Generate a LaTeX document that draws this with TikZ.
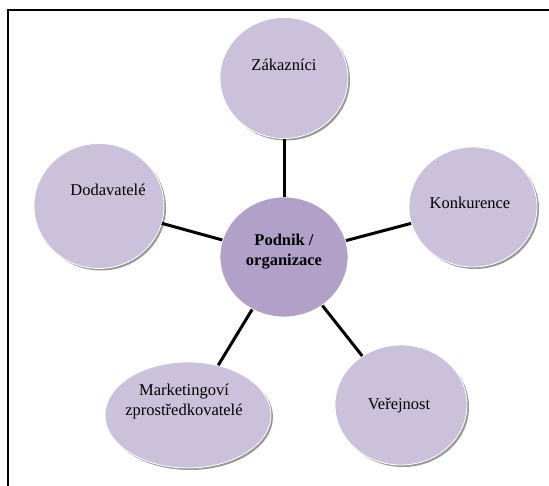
\documentclass[tikz,border=0pt]{standalone}
\usepackage{fontspec}
\setmainfont{Liberation Serif}
\usetikzlibrary{shapes.geometric,shadows}

\definecolor{outerfill}{RGB}{204,193,218}
\definecolor{hubfill}{RGB}{177,160,199}

\begin{document}
\begin{tikzpicture}[x=1pt,y=-1pt,
  outer/.style={ellipse, fill=outerfill, draw=white, line width=0.8pt, inner sep=0pt,
    drop shadow={shadow xshift=2pt, shadow yshift=-2pt, fill=black!50, opacity=0.8}},
  hub/.style={ellipse, fill=hubfill, draw=white, line width=0.8pt, inner sep=0pt},
  lbl/.style={font=\fontsize{16.5}{20}\selectfont, align=center, inner sep=0pt},
  link/.style={line width=3pt, black}]

\useasboundingbox (0,0) rectangle (549,486);

% page frame
\draw[line width=2.4pt] (549,10) -- (8,10) -- (8,486);

% circles
\node[hub, minimum width=128pt, minimum height=120pt] (hub) at (284,257) {};
\node[outer, minimum width=128pt, minimum height=121pt] (zak) at (284,78) {};
\node[outer, minimum width=130pt, minimum height=125pt] (dod) at (99,206) {};
\node[outer, minimum width=128pt, minimum height=120pt] (kon) at (473,207) {};
\node[outer, minimum width=132pt, minimum height=120pt] (ver) at (401,405) {};
\node[outer, minimum width=166pt, minimum height=106pt] (mar) at (188,415) {};

% spokes
\draw[link] (hub) -- (zak);
\draw[link] (hub) -- (dod);
\draw[link] (hub) -- (kon);
\draw[link] (hub) -- (ver);
\draw[link] (hub) -- (mar);

% labels
\node[lbl, font=\fontsize{16.5}{20}\selectfont\bfseries] (hub-t) at (284,252) {Podnik /\\organizace};
\node[lbl] (zak-t) at (284,65) {Zákazníci};
\node[lbl] (dod-t) at (108,190) {Dodavatelé};
\node[lbl] (kon-t) at (470,203) {Konkurence};
\node[lbl] (ver-t) at (399,406) {Veřejnost};
\node[lbl] (mar-t) at (184,402) {Marketingoví\\zprostředkovatelé};
\end{tikzpicture}
\end{document}
